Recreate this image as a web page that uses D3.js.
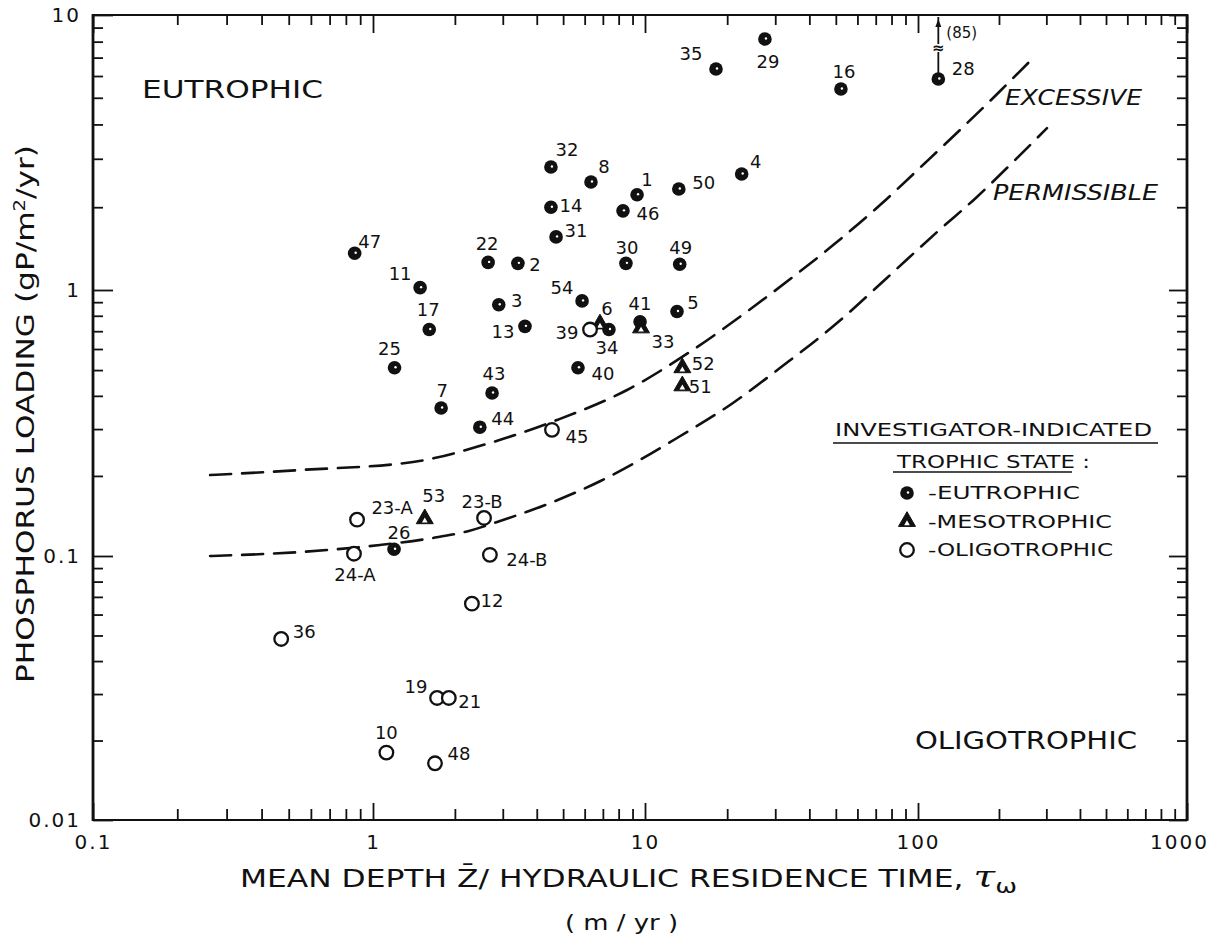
<!DOCTYPE html>
<html>
<head>
<meta charset="utf-8">
<script src="https://cdn.jsdelivr.net/npm/d3@7"></script>
<style>
  html, body { margin: 0; padding: 0; background: #ffffff; }
  svg { display: block; }
</style>
</head>
<body>
<svg id="chart" width="1224" height="938"></svg>
<script>
// ---------------- DATA ----------------
const lakeIds = ["47","11","17","25","7","43","44","3","13","22","2","32","14","31","8","54","40","34","1","46","30","41","5","49","50","4","35","29","16","28","26",
                 "6","33","52","51","53",
                 "39","45","23-A","24-A","23-B","24-B","12","36","19","21","10","48"];
// mean depth / hydraulic residence time (m/yr)
const depthOverResidence = [0.86,1.49,1.61,1.20,1.78,2.74,2.47,2.90,3.62,2.65,3.41,4.51,4.51,4.71,6.33,5.87,5.67,7.37,9.35,8.30,8.51,9.59,13.1,13.4,13.3,22.6,18.2,27.5,52.2,119,1.195,
                            6.83,9.67,13.7,13.7,1.55,
                            6.28,4.55,0.877,0.855,2.56,2.69,2.31,0.47,1.72,1.90,1.12,1.69];
// phosphorus loading (gP/m2/yr)
const phosphorusLoading = [1.36,1.02,0.71,0.51,0.36,0.41,0.305,0.88,0.73,1.26,1.25,2.80,2.00,1.56,2.47,0.91,0.51,0.71,2.22,1.94,1.25,0.76,0.83,1.24,2.33,2.64,6.36,8.18,5.38,5.85,0.106,
                           0.745,0.72,0.51,0.436,0.138,
                           0.71,0.298,0.137,0.102,0.139,0.101,0.066,0.0485,0.029,0.029,0.018,0.0164];
// E = eutrophic, M = mesotrophic, O = oligotrophic
const trophicState = ["E","E","E","E","E","E","E","E","E","E","E","E","E","E","E","E","E","E","E","E","E","E","E","E","E","E","E","E","E","E","E",
                      "M","M","M","M","M",
                      "O","O","O","O","O","O","O","O","O","O","O","O"];
const lake28ActualLoading = 85;

// critical loading curves
const excessiveX = [0.262,0.549,1.403,2.69,4.75,8.59,14.6,24.9,34.8,48.9,72.6,106.2,145.7,202,261];
const excessiveY = [0.2015,0.2105,0.2256,0.266,0.3246,0.4207,0.585,0.863,1.115,1.457,2.037,2.896,3.88,5.29,6.80];
const permissibleX = [0.262,0.549,1.061,1.662,2.235,3.006,4.47,6.83,9.58,13.1,21.0,31.2,50.5,76.9,117.7,165.6,225.5,301.7];
const permissibleY = [0.100,0.1035,0.110,0.1169,0.124,0.1366,0.158,0.191,0.2296,0.2777,0.376,0.509,0.751,1.106,1.625,2.18,2.92,3.88];

// axes
const xMajorTicks = [0.1, 1, 10, 100, 1000];
const xTickLabels = ["0.1", "1", "10", "100", "1000"];
const yMajorTicks = [10, 1, 0.1, 0.01];
const yTickLabels = ["10", "1", "0.1", "0.01"];

const legendLabels = ["-EUTROPHIC", "-MESOTROPHIC", "-OLIGOTROPHIC"];
const legendStates = ["E", "M", "O"];

// ---------------- LAYOUT (positions of labels, not data) ----------------
const labelOffsets = {
  "47":[15,-12],"11":[-20,-14],"17":[-1,-20],"25":[-5,-19],"7":[1,-18],"43":[2,-19],"44":[23,-9],"3":[18,-4],
  "13":[-22,5],"22":[-1,-19],"2":[17,1],"32":[16,-18],"14":[20,-2],"31":[20,-6],"8":[13,-15],"54":[-20,-13],
  "40":[25,6],"34":[-2,18],"1":[10,-15],"46":[25,3],"30":[1,-16],"41":[0,-18],"5":[16,-9],"49":[1,-17],
  "50":[25,-6],"4":[14,-13],"35":[-25,-16],"29":[3,23],"16":[3,-18],"28":[25,-11],"26":[5,-17],
  "6":[7,-15],"33":[22,14],"52":[21,-4],"51":[18,1],"53":[9,-23],
  "39":[-23,3],"45":[25,7],"23-A":[35,-12],"24-A":[1,21],"23-B":[-2,-16],"24-B":[37,5],"12":[20,-3],
  "36":[23,-7],"19":[-21,-11],"21":[21,4],"10":[0,-20],"48":[24,-10]
};

const FONT = "'DejaVu Sans', 'Liberation Sans', Arial, sans-serif";
const INK = "#111";

const svg = d3.select("#chart");
svg.append("rect").attr("width", 1224).attr("height", 938).attr("fill", "#fff");

const x = d3.scaleLog().domain(xMajorTicks).range([93, 373, 645, 918, 1187]);
const y = d3.scaleLog().domain(yMajorTicks).range([15, 290, 556, 820]);

const xMinor = [];
xMajorTicks.slice(0, -1).forEach(d => { for (let k = 2; k < 10; k++) xMinor.push(d * k); });
const yMinor = [];
yMajorTicks.slice(1).forEach(d => { for (let k = 2; k < 10; k++) yMinor.push(d * k); });

function styleAxis(g) {
  g.select(".domain").remove();
  g.selectAll("line").attr("stroke", INK).attr("stroke-width", 1.8);
  g.selectAll("text").attr("font-family", FONT).attr("font-size", 20).attr("fill", INK).attr("letter-spacing", 2);
}

// bottom
svg.append("g").attr("transform", "translate(0,820)")
  .call(d3.axisBottom(x).tickValues(xMajorTicks).tickSizeInner(-17).tickSizeOuter(0).tickPadding(15)
        .tickFormat((d, i) => xTickLabels[i]))
  .call(styleAxis)
  .call(g => g.selectAll("text").filter((d, i) => i === xMajorTicks.length - 1).attr("dx", -8));
svg.append("g").attr("transform", "translate(0,820)")
  .call(d3.axisBottom(x).tickValues(xMinor).tickSizeInner(-11).tickSizeOuter(0).tickFormat(""))
  .call(styleAxis);
// top
svg.append("g").attr("transform", "translate(0,15)")
  .call(d3.axisTop(x).tickValues(xMajorTicks).tickSizeInner(-18).tickSizeOuter(0).tickFormat(""))
  .call(styleAxis);
svg.append("g").attr("transform", "translate(0,15)")
  .call(d3.axisTop(x).tickValues(xMinor).tickSizeInner(-10).tickSizeOuter(0).tickFormat(""))
  .call(styleAxis);
// left
svg.append("g").attr("transform", "translate(93,0)")
  .call(d3.axisLeft(y).tickValues(yMajorTicks).tickSizeInner(-20).tickSizeOuter(0).tickPadding(12)
        .tickFormat((d, i) => yTickLabels[i]))
  .call(styleAxis);
svg.append("g").attr("transform", "translate(93,0)")
  .call(d3.axisLeft(y).tickValues(yMinor).tickSizeInner(-10).tickSizeOuter(0).tickFormat(""))
  .call(styleAxis);
// right
svg.append("g").attr("transform", "translate(1187,0)")
  .call(d3.axisRight(y).tickValues(yMajorTicks).tickSizeInner(-18).tickSizeOuter(0).tickFormat(""))
  .call(styleAxis);
svg.append("g").attr("transform", "translate(1187,0)")
  .call(d3.axisRight(y).tickValues(yMinor).tickSizeInner(-10).tickSizeOuter(0).tickFormat(""))
  .call(styleAxis);

// frame
const [x0, x1] = [x(0.1), x(1000)];
const [yTop, yBot] = [y(10), y(0.01)];
svg.append("line").attr("x1", x0).attr("x2", x1).attr("y1", yTop).attr("y2", yTop).attr("stroke", INK).attr("stroke-width", 1.8);
svg.append("line").attr("x1", x0).attr("x2", x1).attr("y1", yBot).attr("y2", yBot).attr("stroke", INK).attr("stroke-width", 1.8);
svg.append("line").attr("x1", x0).attr("x2", x0).attr("y1", yTop - 1).attr("y2", yBot + 1).attr("stroke", INK).attr("stroke-width", 2.8);
svg.append("line").attr("x1", x1).attr("x2", x1).attr("y1", yTop - 1).attr("y2", yBot + 1).attr("stroke", INK).attr("stroke-width", 2.8);

// dashed curves
const line = d3.line().x(d => x(d[0])).y(d => y(d[1])).curve(d3.curveMonotoneX);
[[excessiveX, excessiveY], [permissibleX, permissibleY]].forEach(([xs, ys]) => {
  svg.append("path")
    .attr("d", line(xs.map((v, i) => [v, ys[i]])))
    .attr("fill", "none").attr("stroke", INK).attr("stroke-width", 2.6)
    .attr("stroke-dasharray", "21,11").attr("stroke-linecap", "round");
});

// markers
function drawMarker(g, state, cx, cy) {
  if (state === "E") {
    g.append("circle").attr("cx", cx).attr("cy", cy).attr("r", 6.8).attr("fill", INK);
    g.append("circle").attr("cx", cx + 1).attr("cy", cy - 0.5).attr("r", 1.2).attr("fill", "#fff");
  } else if (state === "M") {
    g.append("path").attr("transform", `translate(${cx},${cy})`)
      .attr("d", d3.symbol().type(d3.symbolTriangle).size(125)()).attr("fill", INK)
      .attr("stroke", INK).attr("stroke-width", 1).attr("stroke-linejoin", "round");
    g.append("path").attr("transform", `translate(${cx},${cy + 2})`)
      .attr("d", d3.symbol().type(d3.symbolTriangle).size(14)()).attr("fill", "#fff");
  } else {
    g.append("circle").attr("cx", cx).attr("cy", cy).attr("r", 6.8).attr("fill", "#fff")
      .attr("stroke", INK).attr("stroke-width", 2.3);
  }
}

const pts = svg.append("g");
lakeIds.forEach((id, i) => {
  const cx = x(depthOverResidence[i]), cy = y(phosphorusLoading[i]);
  drawMarker(pts, trophicState[i], cx, cy);
  const off = labelOffsets[id] || [14, -12];
  pts.append("text").attr("x", cx + off[0]).attr("y", cy + off[1]).attr("dy", "0.36em")
    .attr("text-anchor", "middle").attr("font-family", FONT).attr("font-size", 18)
    .attr("fill", INK).text(id);
});

// lake 28 actual value arrow (off scale)
{
  const i = lakeIds.indexOf("28");
  const cx = x(depthOverResidence[i]), cy = y(phosphorusLoading[i]);
  const top = y(10);
  svg.append("line").attr("x1", cx).attr("x2", cx).attr("y1", cy - 6).attr("y2", top + 2)
    .attr("stroke", INK).attr("stroke-width", 1.8);
  svg.append("path").attr("d", `M${cx - 3},${top + 12} L${cx},${top + 4} L${cx + 3},${top + 12} Z`).attr("fill", INK);
  svg.append("rect").attr("x", cx - 5).attr("y", top + 29).attr("width", 10).attr("height", 8).attr("fill", "#fff");
  svg.append("text").attr("x", cx).attr("y", top + 33).attr("dy", "0.36em").attr("text-anchor", "middle")
    .attr("font-family", FONT).attr("font-size", 15).attr("font-weight", "bold").attr("fill", INK).text("≈");
  svg.append("text").attr("x", cx + 8).attr("y", top + 18).attr("dy", "0.36em")
    .attr("font-family", FONT).attr("font-size", 15).attr("fill", INK).text(`(${lake28ActualLoading})`);
}

// region labels
function label(txt, lx, ly, size, len, italic) {
  return svg.append("text").attr("x", lx).attr("y", ly).attr("dy", "0.36em")
    .attr("font-family", FONT).attr("font-size", size).attr("fill", INK)
    .attr("font-style", italic ? "italic" : "normal")
    .attr("textLength", len).attr("lengthAdjust", "spacingAndGlyphs").text(txt);
}
label("EUTROPHIC", 142, 89, 24, 181, false);
label("OLIGOTROPHIC", 915, 740, 24, 222, false);
label("EXCESSIVE", 1005, 97, 22, 137, true);
label("PERMISSIBLE", 993, 192, 22, 165, true);

// legend
label("INVESTIGATOR-INDICATED", 835, 430, 18, 317, false);
svg.append("line").attr("x1", 833).attr("x2", 1158).attr("y1", 443).attr("y2", 443).attr("stroke", INK).attr("stroke-width", 1.6);
label("TROPHIC STATE :", 897, 462, 18, 193, false);
svg.append("line").attr("x1", 893).attr("x2", 1072).attr("y1", 472).attr("y2", 472).attr("stroke", INK).attr("stroke-width", 1.6);
const legendWidths = [152, 184, 185];
legendLabels.forEach((t, i) => {
  const ly = 493 + i * 28.5;
  drawMarker(svg, legendStates[i], 907, ly);
  label(t, 928, ly, 18, legendWidths[i], false);
});

// axis titles
const xt = svg.append("text").attr("x", 240).attr("y", 878).attr("dy", "0.36em")
  .attr("font-family", FONT).attr("font-size", 24).attr("fill", INK)
  .attr("textLength", 777).attr("lengthAdjust", "spacingAndGlyphs");
xt.append("tspan").text("MEAN DEPTH  Z\u0304/ HYDRAULIC RESIDENCE TIME, ");
xt.append("tspan").attr("font-style", "italic").attr("font-family", "'DejaVu Serif', serif").attr("font-size", 30).text("τ");
xt.append("tspan").attr("font-size", 20).attr("dy", 6).text("ω");

label("( m / yr )", 565, 922, 22, 113, false);

const yt = svg.append("text").attr("transform", "translate(25,414) rotate(-90)")
  .attr("text-anchor", "middle").attr("dy", "0.36em")
  .attr("font-family", FONT).attr("font-size", 24).attr("fill", INK)
  .attr("textLength", 538).attr("lengthAdjust", "spacingAndGlyphs");
yt.append("tspan").text("PHOSPHORUS LOADING (gP/m");
yt.append("tspan").attr("font-size", 15).attr("dy", -9).text("2");
yt.append("tspan").attr("dy", 9).text("/yr)");
</script>
</body>
</html>
